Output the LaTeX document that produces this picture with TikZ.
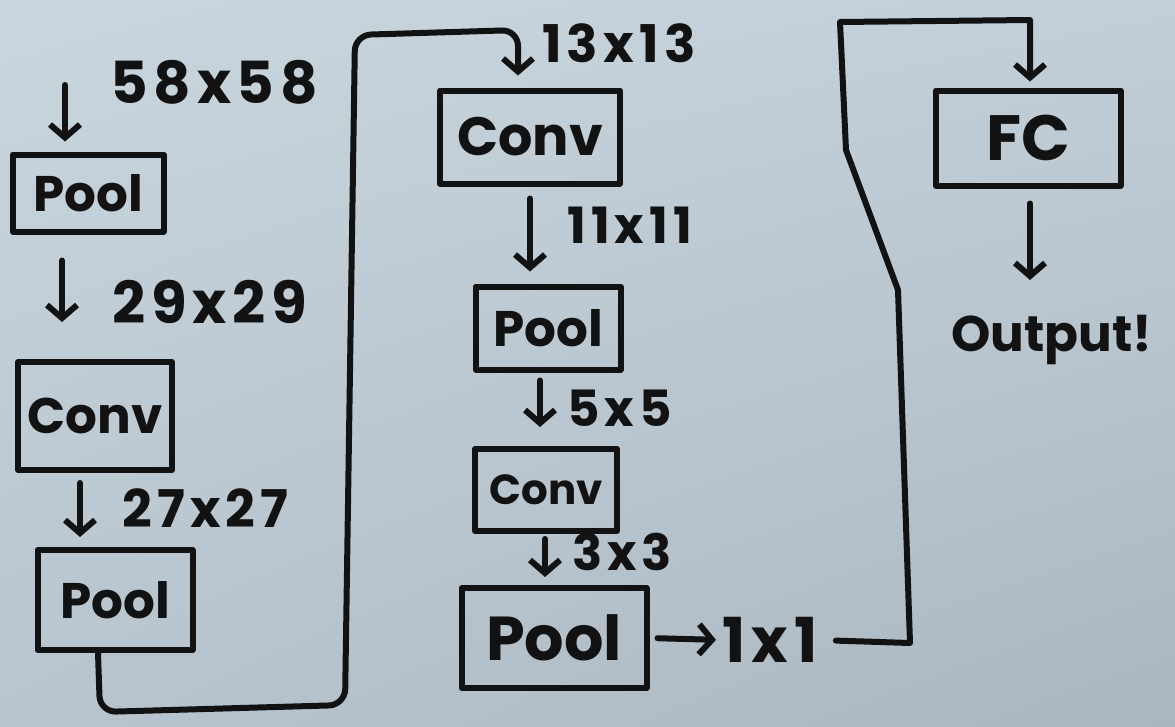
\documentclass[tikz,border=0pt]{standalone}
\usepackage{fontspec}
\setmainfont{Poppins}
\newfontfamily\markerfont{Poppins}[LetterSpace=10]
\usepackage{tikz}
\usetikzlibrary{arrows.meta}
\usetikzlibrary{calc}
\usetikzlibrary{shadings}
\usepackage{xcolor}

\definecolor{boardtl}{HTML}{CAD6DE}
\definecolor{boardtr}{HTML}{C3CFD8}
\definecolor{boardbl}{HTML}{B9C5CE}
\definecolor{boardbr}{HTML}{AAB6C0}
\definecolor{marker}{HTML}{121212}

\tikzset{
	layer/.style={draw=marker, line width=6pt, line join=round, inner sep=0pt, text=marker, font=\fontsize{50}{50}\selectfont\bfseries},
	dims/.style={text=marker, inner sep=0pt, anchor=west, font=\markerfont\fontsize{58}{58}\selectfont\bfseries},
	flow/.style={draw=marker, line width=6pt, line cap=round, line join=round, -{Straight Barb[length=13pt,width=30pt]}},
}

\begin{document}
\begin{tikzpicture}[x=1pt,y=-1pt]
			
			% whiteboard
			\shade[upper left=boardtl, upper right=boardtr, lower left=boardbl, lower right=boardbr] (0,0) rectangle (1175,726);
			\useasboundingbox (0,0) rectangle (1175,726);
			
			% first column
			\node[layer, minimum width=151, minimum height=77] (pool1) at (88,193) {Pool};
			\node[layer, minimum width=154, minimum height=108] (conv1) at (95,416) {Conv};
			\node[layer, minimum width=155, minimum height=100] (pool2) at (115,600) {Pool};
			
			% second column
			\node[layer, minimum width=180, minimum height=93, font=\fontsize{54}{54}\selectfont\bfseries] (conv2) at (530,137) {Conv};
			\node[layer, minimum width=145, minimum height=83] (pool3) at (548,328) {Pool};
			\node[layer, minimum width=142, minimum height=82, font=\fontsize{42}{42}\selectfont\bfseries] (conv3) at (546,490) {Conv};
			\node[layer, minimum width=185, minimum height=100, font=\fontsize{62}{62}\selectfont\bfseries] (pool4) at (554,638) {Pool};
			
			% third column
			\node[layer, minimum width=185, minimum height=95, font=\fontsize{64}{64}\selectfont\bfseries] (fc) at (1028,138) {FC};
			\node[dims, anchor=center, font=\fontsize{50}{50}\selectfont\bfseries] (output) at (1052,340) {Output!};
			
			% sizes
			\node[dims] (s58) at (110,82) {58x58};
			\node[dims] (s29) at (112,302) {29x29};
			\node[dims, font=\markerfont\fontsize{52}{52}\selectfont\bfseries] (s27) at (122,508) {27x27};
			\node[dims, font=\markerfont\fontsize{52}{52}\selectfont\bfseries] (s13) at (542,43) {13x13};
			\node[dims, font=\markerfont\fontsize{50}{50}\selectfont\bfseries] (s11) at (567,225) {11x11};
			\node[dims, font=\markerfont\fontsize{50}{50}\selectfont\bfseries] (s5) at (567,408) {5x5};
			\node[dims, font=\markerfont\fontsize{50}{50}\selectfont\bfseries] (s3) at (572,552) {3x3};
			\node[dims, font=\markerfont\fontsize{62}{62}\selectfont\bfseries] (s1) at (722,640) {1x1};
			
			% arrow columns and wire corners
			\coordinate (in) at (65,85);
			\coordinate (a1) at (62,0);
			\coordinate (a2) at (80,0);
			\coordinate (a3) at (98,0);
			\coordinate (w1) at (100,712);
			\coordinate (w2) at (345,705);
			\coordinate (w3) at (355,35);
			\coordinate (w4) at (518,30);
			\coordinate (a5) at (530,0);
			\coordinate (a6) at (540,0);
			\coordinate (a7) at (545,0);
			\coordinate (r1) at (910,643);
			\coordinate (r2) at (898,290);
			\coordinate (r3) at (846,150);
			\coordinate (r4) at (840,22);
			\coordinate (r5) at (1030,20);
			\coordinate (a8) at (1030,0);
			
			% arrows
			\draw[flow, shorten >=10pt] (in) -- (in |- pool1.north);
			\draw[flow, shorten <=26pt, shorten >=37pt] (pool1.south -| a1) -- (conv1.north -| a1);
			\draw[flow, shorten <=10pt, shorten >=10pt] (conv1.south -| a2) -- (pool2.north -| a2);
			\draw[flow, rounded corners=16pt, shorten >=12pt] (pool2.south -| a3) -- (w1) -- (w2) -- (w3) -- (w4) -- (w4 |- conv2.north);
			\draw[flow, shorten <=12pt, shorten >=12pt] (conv2.south -| a5) -- (pool3.north -| a5);
			\draw[flow, shorten <=8pt, shorten >=19pt] (pool3.south -| a6) -- (conv3.north -| a6);
			\draw[flow, shorten <=5pt, shorten >=8pt] (conv3.south -| a7) -- (pool4.north -| a7);
			\draw[flow, shorten <=8pt, shorten >=6pt] (pool4.east) -- (s1.west);
			\draw[flow, shorten <=18pt, shorten >=6pt] (s1.east) -- (r1) -- (r2) -- (r3) -- (r4) -- (r5) -- (r5 |- fc.north);
			\draw[flow, shorten <=15pt, shorten >=35pt] (fc.south -| a8) -- (output.north -| a8);
			
		\end{tikzpicture}
\end{document}
